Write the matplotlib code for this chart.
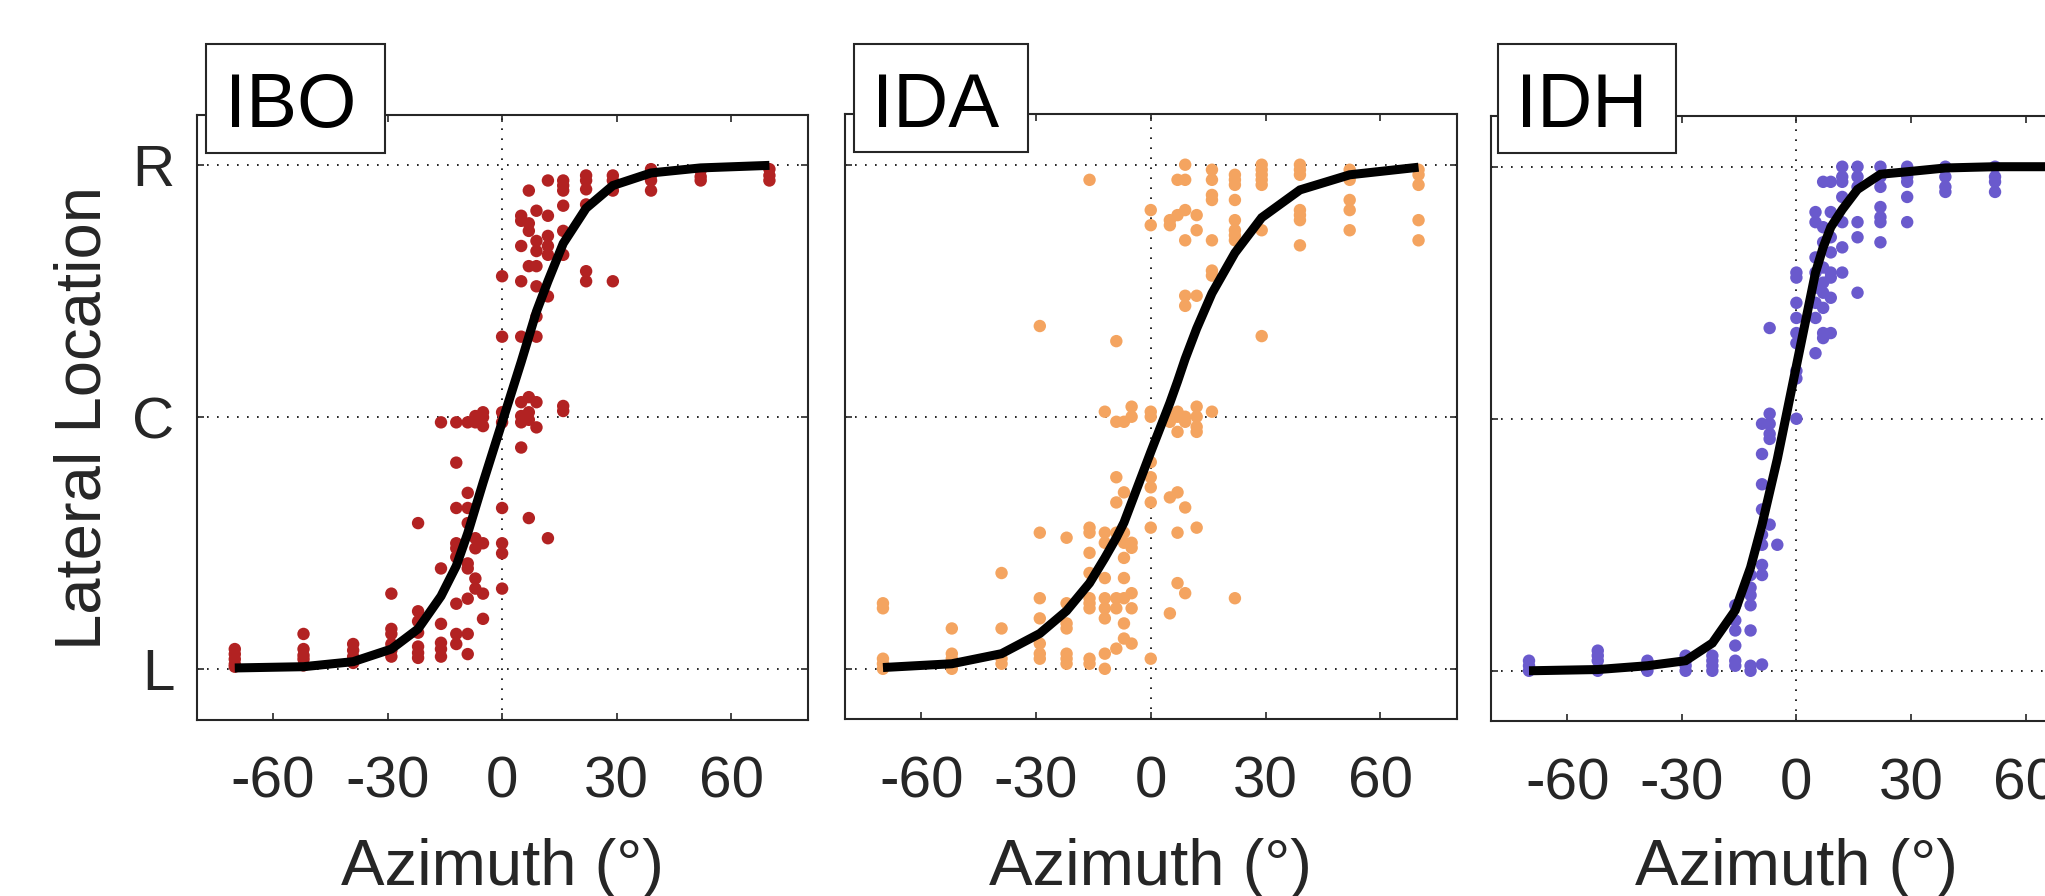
import matplotlib
matplotlib.use("Agg")
import matplotlib.pyplot as plt
from matplotlib.patches import Rectangle

plt.rcParams['font.family'] = ['Liberation Sans', 'DejaVu Sans']

# ---------------- data ----------------
AZIMUTHS = [-70, -52, -39, -29, -22, -16, -12, -9, -7, -5, 0,
            5, 7, 9, 12, 16, 22, 29, 39, 52, 70]
Y_TICKS = [-1, 0, 1]
Y_TICKLABELS = ['L', 'C', 'R']
X_TICKS = [-60, -30, 0, 30, 60]
PANEL_NAMES = ['IBO', 'IDA', 'IDH']
PANEL_COLORS = ['#B22222', '#F4A460', '#6A5ACD']

IBO_RESP = [
    [-0.92, -0.94, -0.96, -0.98, -0.99],
    [-0.86, -0.92, -0.945, -0.96, -0.985],
    [-0.90, -0.925, -0.95, -0.975],
    [-0.70, -0.84, -0.86, -0.90, -0.925, -0.95],
    [-0.42, -0.77, -0.81, -0.855, -0.91, -0.935, -0.955],
    [-0.02, -0.60, -0.82, -0.895, -0.92, -0.95],
    [-0.02, -0.18, -0.36, -0.50, -0.52, -0.555, -0.74, -0.86, -0.90],
    [-0.02, -0.30, -0.36, -0.42, -0.58, -0.60, -0.72, -0.86, -0.94],
    [0.005, -0.02, -0.48, -0.52, -0.64, -0.68],
    [0.02, 0.0, -0.035, -0.50, -0.70, -0.80],
    [0.56, 0.32, 0.02, -0.02, -0.36, -0.50, -0.54, -0.68],
    [0.80, 0.78, 0.68, 0.54, 0.32, 0.06, 0.005, -0.02, -0.12],
    [0.90, 0.77, 0.74, 0.60, 0.08, 0.02, -0.01, -0.40],
    [0.82, 0.70, 0.66, 0.60, 0.52, 0.40, 0.32, 0.06, -0.04],
    [0.94, 0.80, 0.72, 0.68, 0.645, 0.48, -0.48],
    [0.94, 0.92, 0.90, 0.84, 0.74, 0.645, 0.045, 0.025],
    [0.96, 0.94, 0.905, 0.845, 0.58, 0.54],
    [0.96, 0.94, 0.90, 0.54],
    [0.985, 0.96, 0.94, 0.90],
    [0.98, 0.955, 0.94],
    [0.985, 0.96, 0.94],
]

IDA_RESP = [
    [-0.74, -0.76, -0.96, -0.98, -1.0],
    [-0.84, -0.94, -0.96, -1.0],
    [-0.62, -0.84, -0.96, -0.98],
    [0.36, -0.46, -0.72, -0.80, -0.90, -0.94, -0.96],
    [-0.48, -0.74, -0.82, -0.84, -0.94, -0.96, -0.98],
    [0.94, -0.44, -0.46, -0.54, -0.62, -0.72, -0.74, -0.76, -0.96, -0.98],
    [0.02, -0.46, -0.50, -0.64, -0.72, -0.76, -0.80, -0.94, -1.0],
    [0.30, -0.02, -0.24, -0.34, -0.46, -0.72, -0.76, -0.92],
    [-0.02, -0.30, -0.46, -0.50, -0.56, -0.64, -0.72, -0.82, -0.88],
    [0.04, 0.0, -0.50, -0.52, -0.70, -0.76, -0.90],
    [0.82, 0.76, 0.02, 0.0, -0.18, -0.24, -0.28, -0.34, -0.44, -0.96],
    [0.78, 0.76, 0.0, -0.02, -0.32, -0.78],
    [0.94, 0.80, 0.02, 0.0, -0.06, -0.30, -0.46, -0.66],
    [1.0, 0.94, 0.82, 0.70, 0.48, 0.44, 0.0, -0.02, -0.36, -0.70],
    [0.80, 0.74, 0.48, 0.04, 0.0, -0.04, -0.06, -0.44],
    [0.98, 0.94, 0.88, 0.86, 0.70, 0.58, 0.56, 0.02],
    [0.96, 0.94, 0.92, 0.86, 0.78, 0.74, 0.72, 0.70, -0.72],
    [1.0, 0.98, 0.96, 0.94, 0.92, 0.74, 0.32],
    [1.0, 0.98, 0.96, 0.82, 0.80, 0.78, 0.68],
    [0.98, 0.94, 0.86, 0.82, 0.74],
    [0.98, 0.96, 0.92, 0.78, 0.70],
]

IDH_RESP = [
    [-0.96, -0.98, -1.0],
    [-0.92, -0.94, -0.96, -1.0],
    [-0.96, -0.98, -1.0],
    [-0.94, -0.96, -0.98, -1.0],
    [-0.94, -0.96, -0.98, -1.0],
    [-0.74, -0.80, -0.84, -0.90, -0.96, -0.98],
    [-0.62, -0.67, -0.70, -0.74, -0.84, -0.98, -1.0],
    [-0.02, -0.14, -0.26, -0.36, -0.46, -0.50, -0.58, -0.62, -0.975],
    [0.36, 0.02, -0.02, -0.06, -0.08, -0.42],
    [-0.50],
    [0.58, 0.56, 0.46, 0.40, 0.34, 0.30, 0.19, 0.16, 0.0],
    [0.82, 0.78, 0.64, 0.58, 0.52, 0.46, 0.40, 0.26],
    [0.94, 0.76, 0.70, 0.60, 0.54, 0.50, 0.44, 0.34, 0.32],
    [0.94, 0.82, 0.72, 0.66, 0.58, 0.56, 0.48, 0.34],
    [1.0, 0.96, 0.94, 0.88, 0.78, 0.68, 0.58],
    [1.0, 0.96, 0.92, 0.78, 0.72, 0.50],
    [1.0, 0.96, 0.92, 0.84, 0.80, 0.78, 0.70],
    [1.0, 0.96, 0.94, 0.88, 0.78],
    [1.0, 0.96, 0.92, 0.90],
    [1.0, 0.96, 0.94, 0.90],
    [1.0, 0.96],
]

IBO_FIT = [-0.995, -0.99, -0.97, -0.92, -0.84, -0.71, -0.59, -0.46, -0.36, -0.26, -0.02,
           0.22, 0.32, 0.42, 0.54, 0.69, 0.83, 0.92, 0.97, 0.99, 1.0]
IDA_FIT = [-0.995, -0.98, -0.94, -0.86, -0.77, -0.66, -0.56, -0.48, -0.42, -0.34, -0.14,
           0.055, 0.14, 0.23, 0.35, 0.49, 0.65, 0.79, 0.90, 0.96, 0.99]
IDH_FIT = [-1.0, -0.995, -0.98, -0.96, -0.89, -0.76, -0.59, -0.42, -0.29, -0.16, 0.21,
           0.58, 0.68, 0.76, 0.83, 0.91, 0.97, 0.98, 0.995, 1.0, 1.0]

RESPONSES = [IBO_RESP, IDA_RESP, IDH_RESP]
FITS = [IBO_FIT, IDA_FIT, IDH_FIT]

# ---------------- layout (pixels) ----------------
W, H = 2045, 896
AX_PX = [(196.6, 115.0, 807.6, 719.6),
         (844.7, 114.3, 1456.8, 719.2),
         (1490.8, 116.3, 2102.0, 721.2)]
BOX_PX = [(206, 44, 385, 153),
          (854, 44, 1028, 152),
          (1498, 44, 1676, 153)]

DARK = '#262626'

fig = plt.figure(figsize=(W / 100, H / 100), dpi=100)
fig.patch.set_facecolor('white')


def rect(x0, y0, x1, y1):
    return [x0 / W, 1 - y1 / H, (x1 - x0) / W, (y1 - y0) / H]


for i, (name, color, resp, fit) in enumerate(zip(PANEL_NAMES, PANEL_COLORS, RESPONSES, FITS)):
    ax = fig.add_axes(rect(*AX_PX[i]))
    ax.set_xlim(-80, 80)
    ax.set_ylim(-1.2, 1.2)

    # dotted reference lines
    for yv in Y_TICKS:
        ax.axhline(yv, color='black', lw=1.2, linestyle=(0, (1, 5)), zorder=0.5)
    ax.axvline(0, color='black', lw=1.2, linestyle=(0, (1, 5)), zorder=0.5)

    xs, ys = [], []
    for az, vals in zip(AZIMUTHS, resp):
        for v in vals:
            xs.append(az)
            ys.append(v)
    ax.scatter(xs, ys, s=80, color=color, edgecolors='none', zorder=2)
    ax.plot(AZIMUTHS, fit, color='black', lw=6.5, solid_capstyle='butt',
            solid_joinstyle='miter', zorder=3)

    ax.set_xticks(X_TICKS)
    ax.set_xticklabels([str(t) for t in X_TICKS])
    ax.set_yticks(Y_TICKS)
    if i == 0:
        ax.set_yticklabels(Y_TICKLABELS)
    else:
        ax.set_yticklabels([])
    ax.tick_params(axis='both', direction='in', length=5, width=1.2, color=DARK,
                   labelsize=42, labelcolor=DARK, top=True, right=True)
    ax.tick_params(axis='x', pad=26)
    ax.tick_params(axis='y', pad=16)
    for sp in ax.spines.values():
        sp.set_color(DARK)
        sp.set_linewidth(1.5)

    # x label centred on axes
    cx = (AX_PX[i][0] + AX_PX[i][2]) / 2
    fig.text(cx / W, 1 - 885 / H, 'Azimuth (°)', ha='center', va='baseline',
             fontsize=47, color=DARK)

    # title box
    bx0, by0, bx1, by1 = BOX_PX[i]
    fig.patches.append(Rectangle((bx0 / W, 1 - by1 / H), (bx1 - bx0) / W, (by1 - by0) / H,
                                 transform=fig.transFigure, facecolor='white',
                                 edgecolor=DARK, lw=1.5, zorder=5))
    fig.text(((bx0 + bx1) / 2 - 5) / W, 1 - 127 / H, name, ha='center', va='baseline',
             fontsize=55, color='black', zorder=6)

fig.text(83.5 / W, 1 - 417.5 / H, 'Lateral Location', rotation=90, ha='center',
         va='center', fontsize=47, color=DARK)

fig.savefig('out.png', dpi=100)
